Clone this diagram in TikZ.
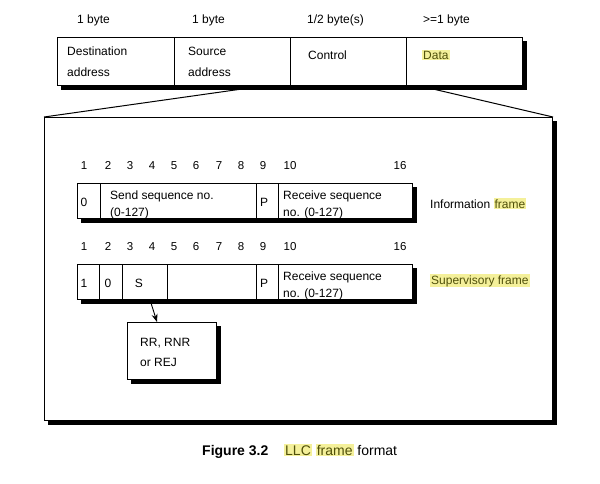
\documentclass[tikz,border=0pt]{standalone}
\usepackage{fontspec}
\setmainfont{Liberation Sans}
\usetikzlibrary{arrows.meta,calc}
\definecolor{hlfill}{HTML}{F4F09A}
\definecolor{hltext}{HTML}{50500A}
\newcommand{\hlword}[1]{{\setlength{\fboxsep}{1pt}\colorbox{hlfill}{\textcolor{hltext}{#1}}}}
\begin{document}
\begin{tikzpicture}[x=1pt,y=-1pt,
  frame/.style={draw=black, line width=1pt, fill=white, rectangle, inner sep=0pt, anchor=north west,
    preaction={fill=black, draw=black, transform canvas={shift={(3.5pt,-4pt)}}}},
  lbl/.style={anchor=base west, inner sep=0pt, font=\fontsize{12}{14}\selectfont},
  ctr/.style={anchor=base, inner sep=0pt, font=\fontsize{12}{14}\selectfont},
  num/.style={anchor=base, inner sep=0pt, font=\fontsize{11.5}{14}\selectfont},
  divider/.style={line width=1pt},
  zoomline/.style={line width=1pt}]
\useasboundingbox (0,0) rectangle (600,483);
\fill[white] (0,0) rectangle (600,483);

% ---- top frame ----
\node[lbl] (h1) at (77,23) {1 byte};
\node[lbl] (h2) at (192,23) {1 byte};
\node[lbl] (h3) at (307,23) {1/2 byte(s)};
\node[lbl] (h4) at (423,23) {>=1 byte};

\node[frame, minimum width=465pt, minimum height=48pt] (top) at (57,37) {};
\draw[divider] (174,37) -- (174,85);
\draw[divider] (290,37) -- (290,85);
\draw[divider] (406,37) -- (406,85);
\node[lbl] (dst1) at (67,55) {Destination};
\node[lbl] (dst2) at (67,76) {address};
\node[lbl] (src1) at (188,55) {Source};
\node[lbl] (src2) at (188,76) {address};
\node[lbl] (ctl) at (308,59) {Control};
\node[lbl] (dat) at (422,59) {\hlword{Data}};

% ---- big frame ----
\node[frame, minimum width=508pt, minimum height=303pt] (big) at (44,117) {};
\coordinate (zl) at (242,89);
\coordinate (zr) at (433,89);
\draw[zoomline] (zl) -- (big.north west);
\draw[zoomline] (zr) -- (big.north east);

% ---- bit numbers row 1 ----
\foreach \n/\x in {1/84,2/108,3/130,4/152,5/174,6/196,7/219,8/241,9/263,10/290,16/400}
  \node[num] (ra\n) at (\x,169) {\n};

% ---- information frame ----
\node[frame, minimum width=335pt, minimum height=35pt] (info) at (77,183) {};
\draw[divider] (100,183) -- (100,218);
\draw[divider] (256,183) -- (256,218);
\draw[divider] (278,183) -- (278,218);
\node[ctr] (i0) at (84,206) {0};
\node[lbl] (is1) at (110,199) {Send sequence no.};
\node[lbl] (is2) at (110,216) {(0-127)};
\node[ctr] (ip) at (264,206) {P};
\node[lbl] (ir1) at (283,199) {Receive sequence};
\node[lbl] (ir2) at (283,216) {no. (0-127)};
\node[lbl] (ilab) at (430,208) {Information \hlword{frame}};

% ---- bit numbers row 2 ----
\foreach \n/\x in {1/84,2/108,3/130,4/152,5/174,6/196,7/219,8/241,9/263,10/290,16/400}
  \node[num] (rb\n) at (\x,250) {\n};

% ---- supervisory frame ----
\node[frame, minimum width=335pt, minimum height=35pt] (sup) at (77,264) {};
\draw[divider] (99,264) -- (99,299);
\draw[divider] (122,264) -- (122,299);
\draw[divider] (167,264) -- (167,299);
\draw[divider] (256,264) -- (256,299);
\draw[divider] (278,264) -- (278,299);
\node[ctr] (s1) at (84,287) {1};
\node[ctr] (s0) at (108,287) {0};
\node[ctr] (ss) at (139,287) {S};
\node[ctr] (sp) at (264,287) {P};
\node[lbl] (sr1) at (283,280) {Receive sequence};
\node[lbl] (sr2) at (283,297) {no. (0-127)};
\node[lbl] (slab) at (430,284) {\hlword{Supervisory frame}};

% ---- RR box ----
\node[frame, minimum width=89pt, minimum height=57pt] (rr) at (127,322) {};
\node[lbl] (rr1) at (140,346) {RR, RNR};
\node[lbl] (rr2) at (140,366) {or REJ};
\coordinate (sfoot) at (151,303);
\draw[line width=0.9pt, -{Stealth[length=8pt,width=6pt]}] (sfoot) -- ($(rr.north west)+(30,0)$);

% ---- caption ----
\node[anchor=base west, inner sep=0pt, font=\fontsize{14}{16}\selectfont\bfseries] (fig) at (202,455) {Figure 3.2};
\node[anchor=base west, inner sep=0pt, font=\fontsize{14}{16}\selectfont] (cap) at (284,455) {\hlword{LLC} \hlword{frame} format};
\end{tikzpicture}
\end{document}
